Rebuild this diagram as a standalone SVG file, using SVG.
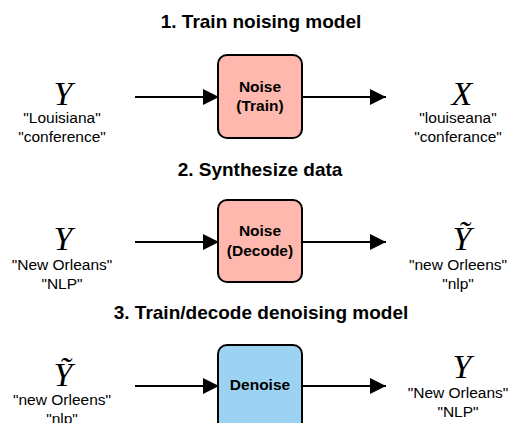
<svg xmlns="http://www.w3.org/2000/svg" width="509" height="423" viewBox="0 0 509 423">
<defs>
<marker id="ah" viewBox="0 0 10 10" refX="10" refY="5" markerWidth="16" markerHeight="16" markerUnits="userSpaceOnUse" orient="auto"><path d="M0,0 L10,5 L0,10 z" fill="#000"/></marker>
<style>
.t{font-family:"Liberation Sans",Arial,sans-serif;font-weight:bold;font-size:19px;text-anchor:middle;fill:#000}
.b{font-family:"Liberation Sans",Arial,sans-serif;font-weight:bold;font-size:15.5px;text-anchor:middle;fill:#000}
.l{font-family:"Liberation Sans",Arial,sans-serif;font-size:15.5px;text-anchor:middle;fill:#000}
.v{font-family:"Liberation Serif","Times New Roman",serif;font-style:italic;font-size:34px;text-anchor:middle;fill:#000}
.n{stroke:#000;stroke-width:2}
.p{fill:#ffb8ad}
.q{fill:#9dd3f2}
.c{stroke:#000;stroke-width:2;fill:none;marker-end:url(#ah)}
</style>
</defs>
<rect width="509" height="423" fill="#fff"/>
<g id="titles">
<text class="t" x="261" y="28">1. Train noising model</text>
<text class="t" x="260" y="176">2. Synthesize data</text>
<text class="t" x="261" y="319">3. Train/decode denoising model</text>
</g>
<g id="n1-in"><text class="v" x="63" y="105">Y</text><text class="l" x="62" y="123">"Louisiana"</text><text class="l" x="62" y="142">"conference"</text></g>
<g id="n1"><rect class="n p" x="218" y="55" width="84" height="83" rx="9"/><text class="b" x="260" y="92">Noise</text><text class="b" x="260" y="111">(Train)</text></g>
<g id="n1-out"><text class="v" x="462" y="105">X</text><text class="l" x="458" y="123">"louiseana"</text><text class="l" x="458" y="142">"conferance"</text></g>
<g id="n2-in"><text class="v" x="63" y="250">Y</text><text class="l" x="62" y="270">"New Orleans"</text><text class="l" x="62" y="289">"NLP"</text></g>
<g id="n2"><rect class="n p" x="218" y="200" width="84" height="82" rx="9"/><text class="b" x="260" y="236">Noise</text><text class="b" x="260" y="256">(Decode)</text></g>
<g id="n2-out"><text class="v" x="462" y="250">Ỹ</text><text class="l" x="458" y="270">"new Orleens"</text><text class="l" x="458" y="289">"nlp"</text></g>
<g id="n3-in"><text class="v" x="63" y="386">Ỹ</text><text class="l" x="62" y="405">"new Orleens"</text><text class="l" x="62" y="424">"nlp"</text></g>
<g id="n3"><rect class="n q" x="218" y="345" width="84" height="90" rx="9"/><text class="b" x="260" y="390">Denoise</text></g>
<g id="n3-out"><text class="v" x="462" y="378">Y</text><text class="l" x="458" y="398">"New Orleans"</text><text class="l" x="458" y="417">"NLP"</text></g>
<g id="connectors">
<line class="c" x1="135" y1="97" x2="219" y2="97"/>
<line class="c" x1="302" y1="97" x2="386" y2="97"/>
<line class="c" x1="135" y1="242" x2="219" y2="242"/>
<line class="c" x1="302" y1="242" x2="386" y2="242"/>
<line class="c" x1="135" y1="386" x2="219" y2="386"/>
<line class="c" x1="302" y1="386" x2="386" y2="386"/>
</g>
</svg>
